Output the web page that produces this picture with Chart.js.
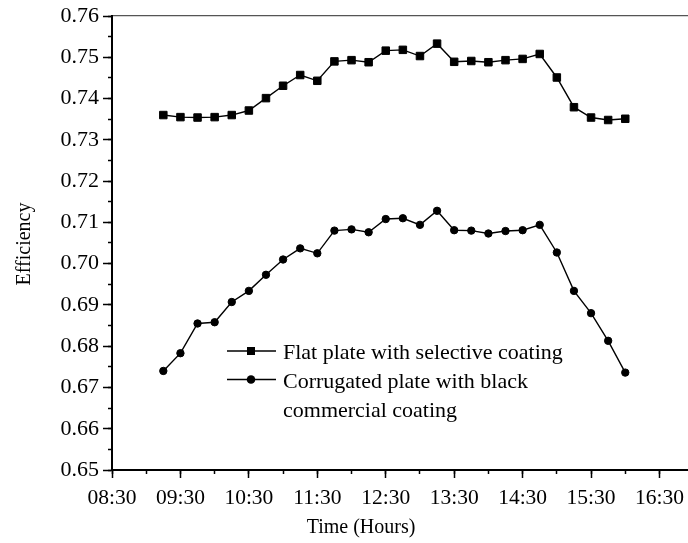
<!DOCTYPE html>
<html>
<head>
<meta charset="utf-8">
<title>Efficiency vs time</title>
<script src="https://cdn.jsdelivr.net/npm/chart.js@4.4.1/dist/chart.umd.min.js"></script>
<style>
  html, body { margin: 0; padding: 0; background: #fff; overflow: hidden; }
  #chart { display: block; }
</style>
</head>
<body>
<canvas id="chart" width="688" height="543"></canvas>
<script>
// Mesures relevées toutes les 15 minutes
const TIMES = [
    "09:15", "09:30", "09:45", "10:00", "10:15", "10:30", "10:45",
    "11:00", "11:15", "11:30", "11:45", "12:00", "12:15", "12:30",
    "12:45", "13:00", "13:15", "13:30", "13:45", "14:00", "14:15",
    "14:30", "14:45", "15:00", "15:15", "15:30", "15:45", "16:00",
];

const FLAT_PLATE = [
    0.7360, 0.7355, 0.7354, 0.7355, 0.7360, 0.7371, 0.7401,
    0.7431, 0.7457, 0.7443, 0.7490, 0.7493, 0.7488, 0.7516,
    0.7518, 0.7503, 0.7533, 0.7489, 0.7491, 0.7488, 0.7493,
    0.7496, 0.7508, 0.7451, 0.7379, 0.7354, 0.7348, 0.7351,
];

const CORRUGATED = [
    0.6740, 0.6783, 0.6855, 0.6858, 0.6907, 0.6934, 0.6973,
    0.7010, 0.7037, 0.7025, 0.7080, 0.7083, 0.7076, 0.7108,
    0.7110, 0.7094, 0.7128, 0.7081, 0.7080, 0.7073, 0.7079,
    0.7081, 0.7094, 0.7027, 0.6934, 0.6880, 0.6813, 0.6736,
];

const SERIES_LABELS = [
    ["Flat plate with selective coating"],
    ["Corrugated plate with black", "commercial coating"],
];

// graduations de l'axe X (libellées toutes les heures, à la demi-heure)
const X_TICKS = [
    "08:30", "09:30", "10:30", "11:30", "12:30", "13:30", "14:30", "15:30", "16:30",
];
const X_MINOR_STEP = 30; // minutes

const X_AXIS_TITLE = "Time (Hours)";
const Y_AXIS_TITLE = "Efficiency";

// axe X : 08:30 -> 16:55 (l'axe sort du cadre à droite)
const X_MIN = "08:30";
const X_MAX = "16:55";
const Y_MIN = 0.65;
const Y_MAX = 0.76;

const FONT = "'Liberation Serif', 'Times New Roman', serif";

function toMinutes(hhmm) {
    const [h, m] = hhmm.split(":").map(Number);
    return h * 60 + m;
}

function formatMinutes(value) {
    const h = Math.floor(value / 60);
    const m = Math.round(value % 60);
    return String(h).padStart(2, "0") + ":" + String(m).padStart(2, "0");
}

function toPoints(values) {
    return TIMES.map((t, i) => ({ x: toMinutes(t), y: values[i] }));
}

function majorXTicks(scale) {
    scale.ticks = X_TICKS.map((t) => ({ value: toMinutes(t) }));
}

function minorXTicks(scale) {
    const ticks = [];
    for (let v = toMinutes(X_MIN); v <= toMinutes(X_MAX); v += X_MINOR_STEP) {
        ticks.push({ value: v });
    }
    scale.ticks = ticks;
}

// Taille fixe des axes, sans marge réservée aux libellés extrêmes
function fixSize(prop, size) {
    return (scale) => {
        scale[prop] = size;
        scale.paddingLeft = 0;
        scale.paddingRight = 0;
        scale.paddingTop = 0;
        scale.paddingBottom = 0;
    };
}

const seriesStyle = (label, pointStyle, radius) => ({
    label,
    borderColor: "#000",
    backgroundColor: "#000",
    borderWidth: 1.4,
    pointStyle,
    pointRadius: radius,
    pointHoverRadius: radius,
    pointBorderWidth: 1,
    pointBackgroundColor: "#000",
    pointBorderColor: "#000",
    tension: 0,
    fill: false,
});

// Légende dessinée à la main, à l'intérieur du cadre
const insideLegend = {
    id: "insideLegend",
    afterDraw(chart) {
        const { ctx } = chart;
        const x0 = 227, x1 = 276, xm = 251, xt = 283;
        const rows = [351, 379.5];
        const baselines = [[359], [388, 416.5]];
        ctx.save();
        chart.data.datasets.forEach((ds, i) => {
            const y = rows[i];
            ctx.strokeStyle = "#000";
            ctx.lineWidth = 1.4;
            ctx.beginPath();
            ctx.moveTo(x0, y);
            ctx.lineTo(x1, y);
            ctx.stroke();
            ctx.fillStyle = "#000";
            if (ds.pointStyle === "rect") {
                ctx.fillRect(xm - 4, y - 4, 8, 8);
            } else {
                ctx.beginPath();
                ctx.arc(xm, y, 4.3, 0, Math.PI * 2);
                ctx.fill();
            }
            ctx.font = "22px " + FONT;
            ctx.textAlign = "left";
            ctx.textBaseline = "alphabetic";
            SERIES_LABELS[i].forEach((line, j) => {
                ctx.fillText(line, xt, baselines[i][j]);
            });
        });
        ctx.restore();
    },
};

// Titres d'axes positionnés comme sur la figure d'origine
const axisTitles = {
    id: "axisTitles",
    afterDraw(chart) {
        const { ctx } = chart;
        ctx.save();
        ctx.fillStyle = "#000";
        ctx.font = "20px " + FONT;
        ctx.textAlign = "center";
        ctx.textBaseline = "alphabetic";
        ctx.fillText(X_AXIS_TITLE, 361, 533);
        ctx.translate(30, 244);
        ctx.rotate(-Math.PI / 2);
        ctx.fillText(Y_AXIS_TITLE, 0, 0);
        ctx.restore();
    },
};

new Chart(document.getElementById("chart"), {
    type: "line",
    data: {
        datasets: [
            { ...seriesStyle(SERIES_LABELS[0].join(" "), "rect", 5.3), data: toPoints(FLAT_PLATE) },
            { ...seriesStyle(SERIES_LABELS[1].join(" "), "circle", 3.7), data: toPoints(CORRUGATED) },
        ],
    },
    options: {
        responsive: false,
        animation: false,
        events: [],
        layout: { padding: 0, autoPadding: false },
        plugins: {
            legend: { display: false },
            tooltip: { enabled: false },
        },
        scales: {
            x: {
                type: "linear",
                position: "bottom",
                weight: 1,
                min: toMinutes(X_MIN),
                max: toMinutes(X_MAX),
                afterBuildTicks: majorXTicks,
                afterFit: fixSize("height", 73),
                border: { color: "#000", width: 2 },
                grid: { drawOnChartArea: false, tickLength: 8, tickColor: "#000", tickWidth: 1.5 },
                ticks: {
                    padding: 7,
                    color: "#000",
                    font: { family: FONT, size: 21.5 },
                    maxRotation: 0,
                    autoSkip: false,
                    callback: (v) => formatMinutes(v),
                },
            },
            xMinor: {
                type: "linear",
                position: "bottom",
                weight: 0,
                min: toMinutes(X_MIN),
                max: toMinutes(X_MAX),
                afterBuildTicks: minorXTicks,
                afterFit: fixSize("height", 0),
                border: { display: false },
                grid: { drawOnChartArea: false, tickLength: 4, tickColor: "#000", tickWidth: 1.5 },
                ticks: { display: false, autoSkip: false },
            },
            xTop: {
                type: "linear",
                position: "top",
                min: toMinutes(X_MIN),
                max: toMinutes(X_MAX),
                afterFit: fixSize("height", 16),
                border: { color: "#555", width: 1.2 },
                grid: { display: false },
                ticks: { display: false },
            },
            y: {
                type: "linear",
                position: "left",
                weight: 1,
                min: Y_MIN,
                max: Y_MAX,
                afterFit: fixSize("width", 112),
                border: { color: "#000", width: 2 },
                grid: { drawOnChartArea: false, tickLength: 9, tickColor: "#000", tickWidth: 1.5 },
                ticks: {
                    stepSize: 0.01,
                    padding: 4,
                    color: "#000",
                    font: { family: FONT, size: 22 },
                    autoSkip: false,
                    callback: (v) => v.toFixed(2),
                },
            },
            yMinor: {
                type: "linear",
                position: "left",
                weight: 0,
                min: Y_MIN,
                max: Y_MAX,
                afterFit: fixSize("width", 0),
                border: { display: false },
                grid: { drawOnChartArea: false, tickLength: 4, tickColor: "#000", tickWidth: 1.5 },
                ticks: { stepSize: 0.005, display: false, autoSkip: false },
            },
        },
    },
    plugins: [insideLegend, axisTitles],
});
</script>
</body>
</html>
